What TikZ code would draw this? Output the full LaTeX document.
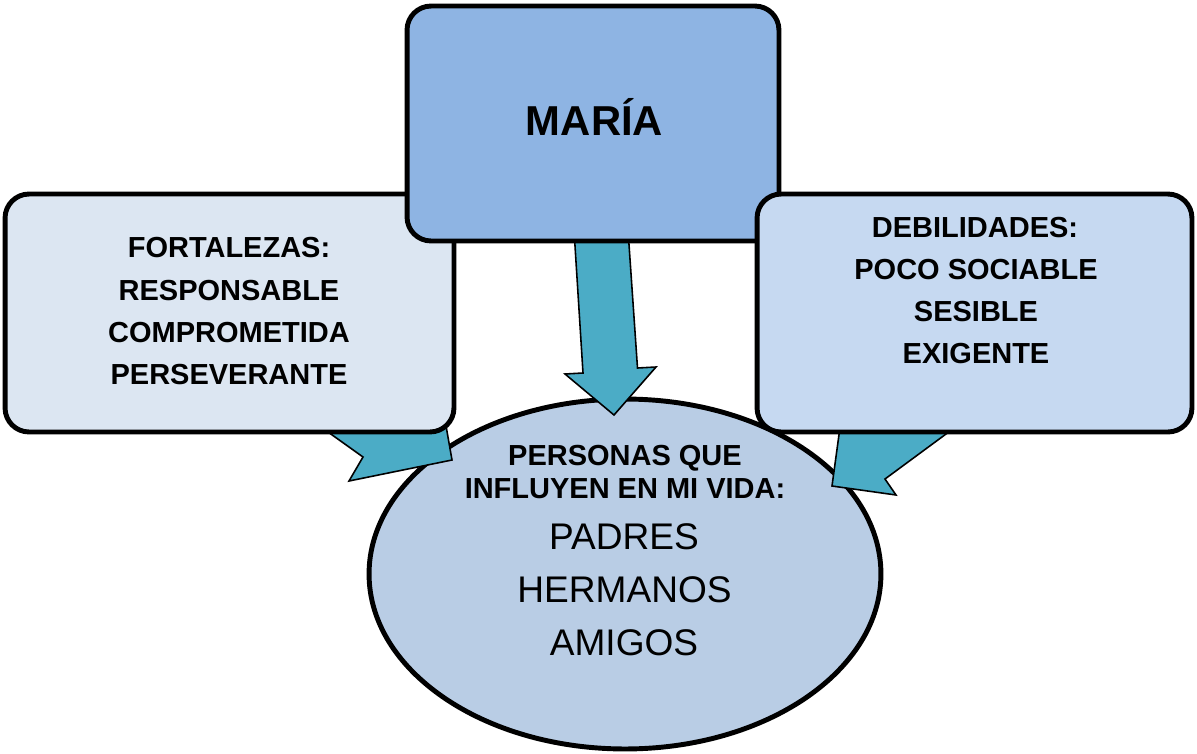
\documentclass[tikz,border=0pt]{standalone}
\usepackage{fontspec}
\setmainfont{Liberation Sans}
\usetikzlibrary{shapes.geometric}
\definecolor{boxL}{HTML}{DCE6F2}
\definecolor{boxM}{HTML}{8EB4E3}
\definecolor{boxR}{HTML}{C6D9F1}
\definecolor{ellc}{HTML}{B9CDE5}
\definecolor{arrowc}{HTML}{4BACC6}
\begin{document}
\begin{tikzpicture}[x=0.02cm,y=-0.02cm,
  boxstyle/.style={draw=black, line width=2.8pt, rounded corners=0.48cm, rectangle, inner sep=0pt},
  blockarrow/.style={draw=black, line width=0.9pt, fill=arrowc, line join=miter},
  boldtxt/.style={font=\fontsize{16.5pt}{18pt}\selectfont\bfseries, anchor=base, inner sep=0pt},
  regtxt/.style={font=\fontsize{21.1pt}{24pt}\selectfont, anchor=base, inner sep=0pt},
  titletxt/.style={font=\fontsize{23.8pt}{28pt}\selectfont\bfseries, anchor=base, inner sep=0pt}]
\useasboundingbox (0,0) rectangle (1197,754);
% ellipse
\node[ellipse, draw=black, line width=2.8pt, fill=ellc, minimum width=10.24cm, minimum height=7cm, inner sep=0pt] (pers) at (625,574) {};
% block arrows
\draw[blockarrow] (307,417) -- (363,457) -- (349,481) -- (452,460) -- (445,420) -- cycle;
\draw[blockarrow] (841,420) -- (832,486) -- (896,495) -- (885,479) -- (965,420) -- cycle;
\draw[blockarrow] (574,230) -- (583,373) -- (565,374) -- (614,415) -- (656,367) -- (637.5,368) -- (628,230) -- cycle;
% boxes
\node[boxstyle, fill=boxL, minimum width=8.98cm, minimum height=4.76cm] (fort) at (229.5,313) {};
\node[boxstyle, fill=boxM, minimum width=7.44cm, minimum height=4.7cm] (maria) at (593,123.5) {};
\node[boxstyle, fill=boxR, minimum width=8.7cm, minimum height=4.76cm] (deb) at (974.5,313) {};
% texts
\node[titletxt] (tm) at (594.5,135) {MARÍA};
\node[boldtxt] (f1) at (229,257) {FORTALEZAS:};
\node[boldtxt] (f2) at (229,300) {RESPONSABLE};
\node[boldtxt] (f3) at (229,342) {COMPROMETIDA};
\node[boldtxt] (f4) at (229,384) {PERSEVERANTE};
\node[boldtxt] (d1) at (975,237) {DEBILIDADES:};
\node[boldtxt] (d2) at (976,279) {POCO SOCIABLE};
\node[boldtxt] (d3) at (976,321) {SESIBLE};
\node[boldtxt] (d4) at (976,363) {EXIGENTE};
\node[boldtxt] (p1) at (625,465) {PERSONAS QUE};
\node[boldtxt] (p2) at (625,498) {INFLUYEN EN MI VIDA:};
\node[regtxt] (p3) at (624,549) {PADRES};
\node[regtxt] (p4) at (624.5,602) {HERMANOS};
\node[regtxt] (p5) at (624,655) {AMIGOS};
\end{tikzpicture}
\end{document}
